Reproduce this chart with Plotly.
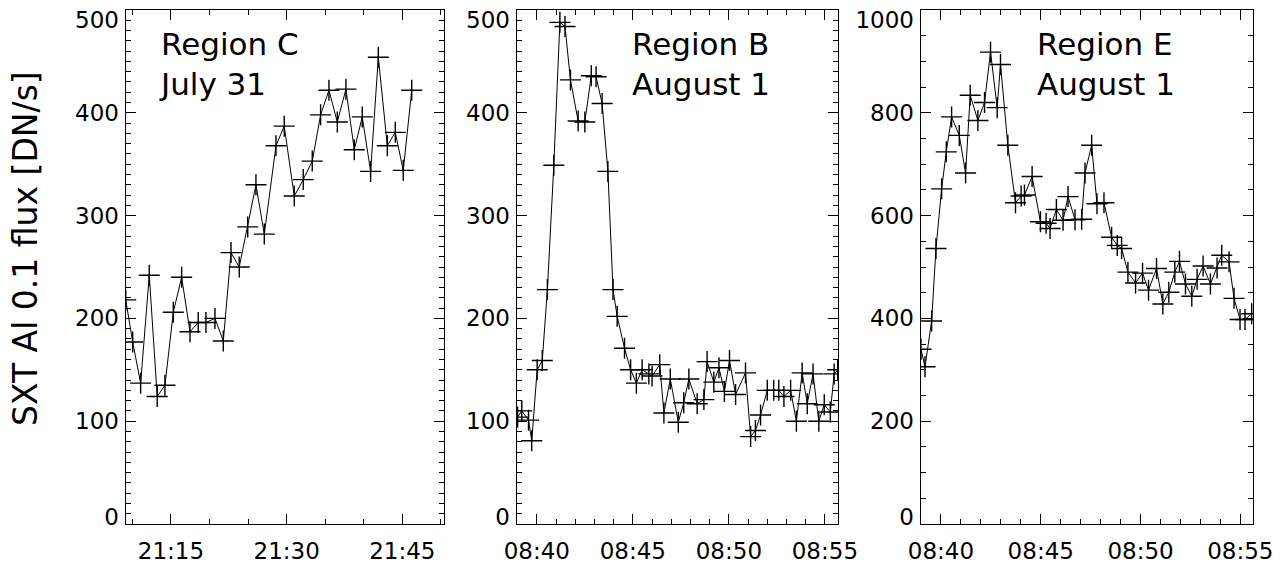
import plotly.graph_objects as go

# ---------------- data ----------------
# Region C, July 31
t1 = ["21:09:08","21:10:02","21:11:04","21:12:11","21:13:13","21:14:13","21:15:18","21:16:23",
      "21:17:28","21:18:32","21:19:32","21:20:42","21:21:47","21:22:47","21:23:51","21:24:57",
      "21:26:01","21:27:06","21:28:37","21:29:41","21:30:59","21:32:09","21:33:19","21:34:24",
      "21:35:29","21:36:34","21:37:41","21:38:46","21:39:48","21:40:53","21:41:53","21:43:03",
      "21:44:05","21:45:07","21:46:13"]
f1 = [218, 177, 137, 242, 124, 135, 206, 240, 187, 196, 196, 200, 178, 264, 250, 289, 330, 282,
      368, 387, 319, 335, 353, 398, 422, 391, 423, 364, 396, 343, 454, 368, 381, 344, 422]

# Region B, August 1
t2 = ["08:39:00","08:39:13","08:39:34","08:39:44","08:40:01","08:40:17","08:40:33","08:40:53",
      "08:41:12","08:41:28","08:41:45","08:42:09","08:42:30","08:42:50","08:43:05","08:43:24",
      "08:43:42","08:43:58","08:44:11","08:44:34","08:44:53","08:45:11","08:45:29","08:45:50",
      "08:46:00","08:46:24","08:46:37","08:46:57","08:47:22","08:47:39","08:47:55","08:48:21",
      "08:48:42","08:48:52","08:49:13","08:49:29","08:49:46","08:50:02","08:50:21","08:50:52",
      "08:51:08","08:51:23","08:51:39","08:52:00","08:52:20","08:52:36","08:52:52","08:53:13",
      "08:53:31","08:53:49","08:54:05","08:54:23","08:54:41","08:54:58","08:55:17","08:55:29",
      "08:55:40"]
f2 = [104, 110, 101, 81, 150, 159, 228, 349, 488, 484, 432, 392, 391, 436, 435, 409, 343, 228,
      202, 171, 150, 137, 150, 146, 144, 155, 108, 141, 99, 118, 141, 117, 121, 158, 138, 152,
      129, 159, 126, 147, 85, 91, 106, 130, 130, 130, 124, 130, 100, 147, 117, 146, 100, 116,
      109, 146, 150]

# Region E, August 1
t3 = ["08:39:00","08:39:12","08:39:32","08:39:45","08:40:02","08:40:16","08:40:32","08:40:55",
      "08:41:14","08:41:28","08:41:51","08:42:11","08:42:29","08:42:49","08:42:59","08:43:21",
      "08:43:44","08:44:01","08:44:11","08:44:34","08:44:59","08:45:16","08:45:28","08:45:47",
      "08:46:07","08:46:22","08:46:43","08:47:03","08:47:13","08:47:33","08:47:49","08:48:10",
      "08:48:33","08:48:50","08:49:03","08:49:22","08:49:45","08:50:06","08:50:24","08:50:48",
      "08:51:07","08:51:25","08:51:43","08:51:57","08:52:15","08:52:34","08:52:50","08:53:08",
      "08:53:30","08:53:50","08:54:04","08:54:26","08:54:41","08:54:59","08:55:14","08:55:34"]
f3 = [340, 306, 395, 536, 652, 724, 792, 756, 683, 834, 785, 820, 918, 810, 894, 737, 625, 638,
      640, 676, 588, 585, 575, 612, 591, 637, 592, 593, 683, 737, 623, 625, 558, 542, 536, 490,
      469, 488, 455, 497, 428, 451, 490, 511, 467, 443, 476, 502, 467, 498, 523, 510, 439, 398,
      398, 409]

day1 = "1992-07-31"
day2 = "1992-08-01"
labels = ["Region C<br>July 31", "Region B<br>August 1", "Region E<br>August 1"]
ytitle = "SXT Al 0.1 flux [DN/s]"
y_ticktext = [["0", "100", "200", "300", "400", "500"],
              ["0", "100", "200", "300", "400", "500"],
              ["0", "200", "400", "600", "800", "1000"]]

# ---------------- figure ----------------
W, H = 1283, 571
FONT = "DejaVu Sans"

def px(x):
    return x / W

def py(y):
    return 1 - y / H

fig = go.Figure()
series = [([f"{day1} {t}" for t in t1], f1),
          ([f"{day2} {t}" for t in t2], f2),
          ([f"{day2} {t}" for t in t3], f3)]
for i, (xs, ys) in enumerate(series):
    sfx = "" if i == 0 else str(i + 1)
    fig.add_trace(go.Scatter(
        x=xs, y=ys, mode="lines+markers", xaxis="x" + sfx, yaxis="y" + sfx,
        line=dict(color="black", width=1),
        marker=dict(symbol="cross-thin", size=15, color="black",
                    line=dict(color="black", width=1.4)),
        cliponaxis=True, showlegend=False, hoverinfo="skip"))
    # empty trace that registers the label-only companion y axis
    fig.add_trace(go.Scatter(x=[], y=[], xaxis="x" + sfx, yaxis="y" + str(i + 4),
                             mode="lines", showlegend=False, hoverinfo="skip"))

x_dom = [(126, 444), (517, 838), (921, 1253)]
y_dom = [py(524), py(10)]
x_rng = [[f"{day1} 21:09:10", f"{day1} 21:50:24"],
         [f"{day2} 08:38:58", f"{day2} 08:55:41"],
         [f"{day2} 08:39:00", f"{day2} 08:55:38"]]
x_dt = [15 * 60000, 5 * 60000, 5 * 60000]
x_minor = [5 * 60000, 60000, 60000]
y_rng = [[0, 500], [0, 500], [0, 1000]]
y_dt = [100, 100, 200]
y_minor = [10, 10, 50]

common = dict(showline=True, linecolor="black", linewidth=1.3, mirror="ticks",
              ticks="inside", ticklen=10, tickwidth=1.3, tickcolor="black",
              showgrid=False, zeroline=False, automargin=False,
              tickfont=dict(family=FONT, size=23, color="black"))

for i in range(3):
    sfx = "" if i == 0 else str(i + 1)
    top = y_rng[i][1]
    fig.layout["xaxis" + sfx] = dict(
        common, type="date", domain=[px(x_dom[i][0]), px(x_dom[i][1])],
        range=x_rng[i], anchor="y" + sfx, tickformat="%H:%M",
        tick0=f"{day1} 00:00:00", dtick=x_dt[i], ticklabelstandoff=6,
        minor=dict(dtick=x_minor[i], tick0=f"{day1} 00:00:00", ticks="inside",
                   ticklen=5, tickwidth=1, tickcolor="black", showgrid=False))
    # frame axis with ticks (labels drawn by a companion axis below)
    fig.layout["yaxis" + sfx] = dict(
        common, domain=y_dom, range=y_rng[i], anchor="x" + sfx,
        tick0=0, dtick=y_dt[i], showticklabels=False,
        minor=dict(dtick=y_minor[i], tick0=0, ticks="inside", ticklen=5,
                   tickwidth=1, tickcolor="black", showgrid=False))
    # label axis: end labels nudged inward, as in the original
    step = y_dt[i]
    vals = [0.014 * top] + [step * k for k in range(1, 5)] + [top - 0.02 * top]
    fig.layout["yaxis" + str(i + 4)] = dict(
        overlaying="y" + sfx, domain=y_dom, range=y_rng[i], anchor="x" + sfx,
        side="left", showline=False, ticks="", showgrid=False, zeroline=False,
        automargin=False, tickmode="array", tickvals=vals, ticktext=y_ticktext[i],
        ticklabelstandoff=6, ticklabeloverflow="allow",
        tickfont=dict(family=FONT, size=23, color="black"))

label_x = [157, 630, 1035]
annotations = []
for i in range(3):
    annotations.append(dict(
        text=labels[i], x=px(label_x[i]), y=py(24), xref="paper", yref="paper",
        xanchor="left", yanchor="top", align="left", showarrow=False,
        font=dict(family=FONT, size=31, color="black")))
annotations.append(dict(
    text=ytitle, x=px(25), y=py(249), xref="paper", yref="paper",
    xanchor="center", yanchor="middle", textangle=-90, showarrow=False,
    font=dict(family=FONT, size=33, color="black")))

fig.update_layout(width=W, height=H, margin=dict(l=0, r=0, t=0, b=0),
                  paper_bgcolor="white", plot_bgcolor="white",
                  annotations=annotations, showlegend=False)

fig.write_html("out.html", config={"displayModeBar": False},
               post_script="document.body.style.margin='0';document.body.style.overflow='hidden';")
